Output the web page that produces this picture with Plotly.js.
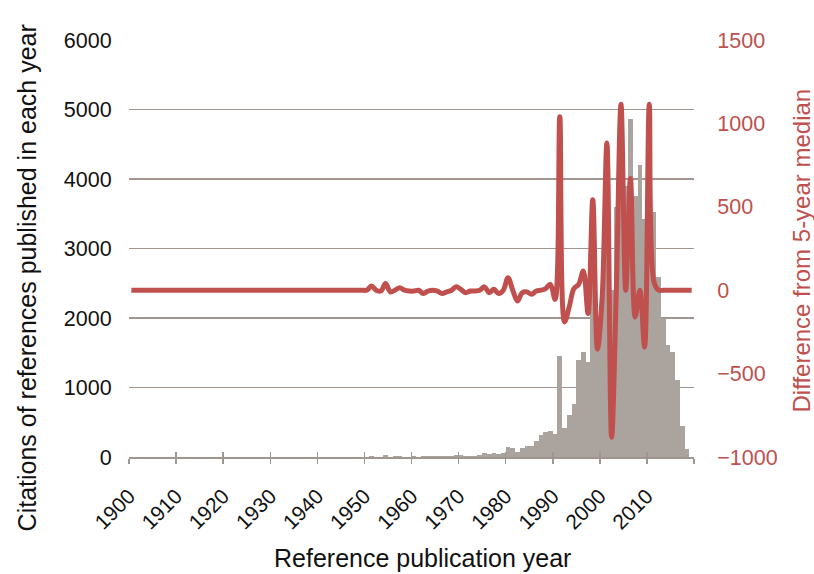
<!DOCTYPE html>
<html>
<head>
<meta charset="utf-8">
<script src="https://cdn.plot.ly/plotly-3.0.1.min.js"></script>
<style>html,body{margin:0;padding:0;background:#fff;}#chart{width:814px;height:574px;}</style>
</head>
<body>
<div id="chart"></div>
<script>
// Publication years of the references
const years = [];
for (let y = 1900; y <= 2019; y++) years.push(y);

// Citations of references published in each year (left axis)
const citations = [
  0,0,0,0,0,0,0,0,0,0,            // 1900s
  0,0,0,0,0,0,0,0,0,0,            // 1910s
  0,0,0,0,0,0,0,0,0,0,            // 1920s
  0,0,0,0,0,0,0,0,0,0,            // 1930s
  0,0,0,0,0,0,0,0,0,0,            // 1940s
  3,20,5,4,25,6,8,18,6,5,         // 1950s
  8,6,8,10,8,10,12,10,15,35,      // 1960s
  30,18,15,20,25,55,40,55,50,60,  // 1970s
  144,124,72,134,153,155,230,316,354,374,       // 1980s
  335,1447,415,600,757,1395,1510,1370,2540,2000, // 1990s
  2350,3280,2400,3600,5000,3900,4866,3760,4200,3430, // 2000s
  4640,3520,2590,1990,1610,1510,1106,450,110,0   // 2010s
];

// Difference from 5-year median (right axis)
const medianDiff = [
  0,0,0,0,0,0,0,0,0,0,            // 1900s
  0,0,0,0,0,0,0,0,0,0,            // 1910s
  0,0,0,0,0,0,0,0,0,0,            // 1920s
  0,0,0,0,0,0,0,0,0,0,            // 1930s
  0,0,0,0,0,0,0,0,0,0,            // 1940s
  0,25,0,-5,40,-10,0,15,0,-5,     // 1950s
  -5,0,-20,-5,0,-5,-20,-10,0,20,  // 1960s
  5,-15,-5,-5,0,20,-15,5,-20,0,   // 1970s
  75,0,-65,-15,-10,-25,-5,0,10,35,          // 1980s
  -55,1040,-190,-100,10,35,115,-140,543,-354, // 1990s
  -40,882,-882,0,1115,0,670,-160,0,-340,     // 2000s
  1115,50,0,0,0,0,0,0,0,0                    // 2010s
];

// Axis ticks and titles
const decadeTicks = [1900,1910,1920,1930,1940,1950,1960,1970,1980,1990,2000,2010,2020];
const decadeLabels = ['1900','1910','1920','1930','1940','1950','1960','1970','1980','1990','2000','2010',''];
const leftTicks = [0,1000,2000,3000,4000,5000,6000];
const rightTicks = [-1000,-500,0,500,1000,1500];
const xTitle = 'Reference publication year';
const leftTitle = 'Citations of references published in each year';
const rightTitle = 'Difference from 5-year median';

const RED = '#c0504d';
const GRID = '#a1958f';
const FONT = 'Liberation Sans, Arial, sans-serif';

const barTrace = {
  type: 'bar',
  x: years,
  y: citations,
  offset: 0,
  width: 1,
  marker: {color: '#aba39e', line: {width: 0}},
  xaxis: 'x',
  yaxis: 'y',
  name: 'Citations'
};

const lineTrace = {
  type: 'scatter',
  mode: 'lines',
  x: years.map(y => y + 0.5),
  y: medianDiff,
  line: {color: RED, width: 5, shape: 'spline', smoothing: 1},
  xaxis: 'x2',
  yaxis: 'y2',
  name: 'Difference from 5-year median'
};

const layout = {
  width: 814,
  height: 574,
  margin: {l: 129, r: 120, t: 40, b: 117},
  paper_bgcolor: '#fff',
  plot_bgcolor: '#fff',
  showlegend: false,
  font: {family: FONT, size: 21, color: '#111'},
  bargap: 0,
  xaxis: {
    range: [1900, 2020],
    tickmode: 'array',
    tickvals: decadeTicks,
    ticktext: decadeLabels,
    tickangle: -45,
    ticks: 'outside',
    ticklen: 5,
    tickwidth: 1.5,
    tickcolor: GRID,
    ticklabelstandoff: 12,
    showline: true,
    linecolor: GRID,
    linewidth: 1.5,
    showgrid: false,
    zeroline: false,
    tickfont: {family: FONT, size: 21, color: '#111'}
  },
  xaxis2: {
    overlaying: 'x',
    anchor: 'y',
    side: 'bottom',
    range: [1900, 2020],
    tickmode: 'array',
    tickvals: decadeTicks,
    ticks: 'inside',
    ticklen: 5,
    tickwidth: 1.5,
    tickcolor: GRID,
    showticklabels: false,
    showline: false,
    showgrid: false,
    zeroline: false
  },
  yaxis: {
    range: [0, 6000],
    tickmode: 'array',
    tickvals: leftTicks,
    ticks: 'outside',
    ticklen: 12,
    tickcolor: 'rgba(0,0,0,0)',
    showline: false,
    showgrid: true,
    gridcolor: GRID,
    gridwidth: 1.5,
    zeroline: false,
    tickfont: {family: FONT, size: 21.5, color: '#111'}
  },
  yaxis2: {
    overlaying: 'y',
    side: 'right',
    anchor: 'x2',
    range: [-1000, 1500],
    tickmode: 'array',
    tickvals: rightTicks,
    ticks: 'outside',
    ticklen: 18,
    tickcolor: 'rgba(0,0,0,0)',
    showline: false,
    showgrid: false,
    zeroline: false,
    tickfont: {family: FONT, size: 21.5, color: RED}
  },
  annotations: [
    {text: xTitle, xref: 'paper', yref: 'paper', x: 0.519, y: -0.243,
     xanchor: 'center', yanchor: 'middle', showarrow: false,
     font: {family: FONT, size: 25, color: '#111'}},
    {text: leftTitle, xref: 'paper', yref: 'paper', x: -0.181, y: 0.43,
     xanchor: 'center', yanchor: 'middle', showarrow: false, textangle: -90,
     font: {family: FONT, size: 25, color: '#111'}},
    {text: rightTitle, xref: 'paper', yref: 'paper', x: 1.191, y: 0.495,
     xanchor: 'center', yanchor: 'middle', showarrow: false, textangle: -90,
     font: {family: FONT, size: 24, color: RED}}
  ]
};

Plotly.newPlot('chart', [barTrace, lineTrace], layout, {displayModeBar: false, staticPlot: true});
</script>
</body>
</html>
